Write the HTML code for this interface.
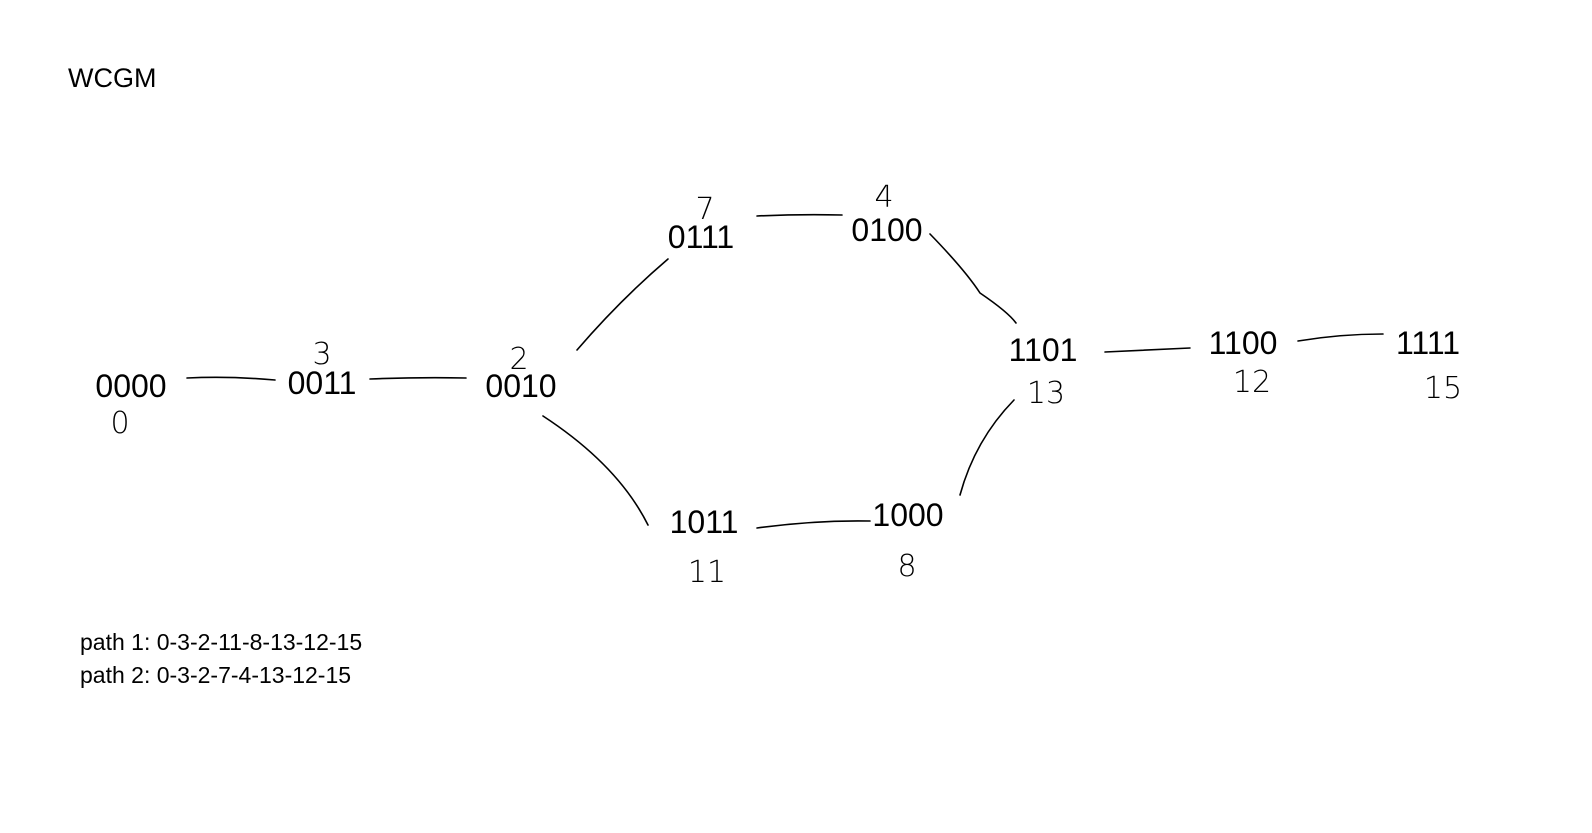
<!DOCTYPE html>
<html><head><meta charset="utf-8">
<style>
html,body{margin:0;padding:0;background:#fff;}
svg{display:block;}
text{font-family:"Liberation Sans",sans-serif;fill:#000;}
</style></head>
<body>
<svg id="chart" width="1592" height="833" viewBox="0 0 1592 833">
<text x="68" y="87" font-size="27">WCGM</text>
<text x="80" y="650" font-size="23">path 1: 0-3-2-11-8-13-12-15</text>
<text x="80" y="683" font-size="23">path 2: 0-3-2-7-4-13-12-15</text>
<g id="edges" fill="none" stroke="#000" stroke-width="1.6" stroke-linecap="round"></g>
<g id="nodes"></g>
</svg>
<script>
const codes = ["0000","0011","0010","0111","0100","1101","1100","1111","1011","1000"];
const nums = ["0","3","2","7","4","13","12","15","11","8"];
const nodeX = [131,322,521,701,887,1043,1243,1428,704,908];
const nodeY = [397,394,397,248,241,361,354,354,533,526];
const numX = [120,322,519,705,884,1046,1252,1443,707,907];
const numY = [433,364,369,219,207,403,392,398,582,576];
const edgePaths = [
 "M187,378 Q230,376 275,380",
 "M370,379 Q420,377 466,378",
 "M577,350 Q620,300 668,259",
 "M757,216 Q800,214 842,215",
 "M930,234 Q965,270 980,293 Q1008,312 1016,323",
 "M1105,352 Q1150,350 1190,348",
 "M1298,341 Q1340,334 1383,334",
 "M543,416 Q618,465 648,525",
 "M757,528 Q815,520 870,521",
 "M960,495 Q975,440 1014,400"
];
const NS="http://www.w3.org/2000/svg";
const eg=document.getElementById('edges'), ng=document.getElementById('nodes');
edgePaths.forEach((d,i)=>{
 const p=document.createElementNS(NS,'path');
 p.setAttribute('d',d);
 
 
 eg.appendChild(p);
});
codes.forEach((c,i)=>{
 const t=document.createElementNS(NS,'text');
 t.setAttribute('x',nodeX[i]);t.setAttribute('y',nodeY[i]);
 t.setAttribute('font-size','32');t.setAttribute('text-anchor','middle');
 t.textContent=c;
 
 
 ng.appendChild(t);
 const n=document.createElementNS(NS,'text');
 n.setAttribute('x',numX[i]);n.setAttribute('y',numY[i]);
 n.setAttribute('font-size','30');n.setAttribute('text-anchor','middle');
 n.setAttribute('style','font-family:"DejaVu Sans",sans-serif;font-weight:200;fill:#000');
 n.textContent=nums[i];
 
 
 ng.appendChild(n);
});
</script>
</body></html>
